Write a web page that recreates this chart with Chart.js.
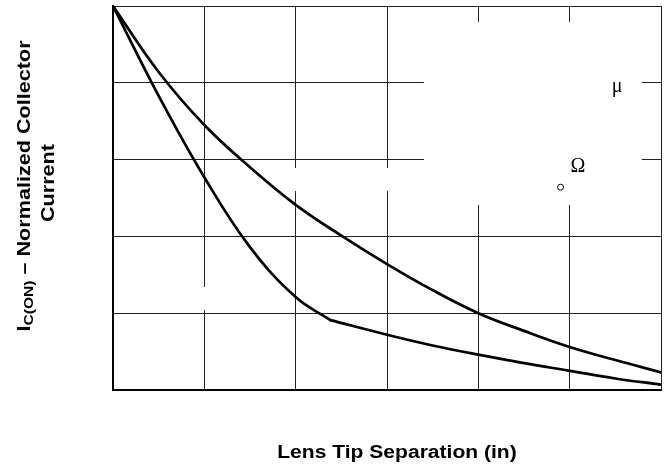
<!DOCTYPE html>
<html>
<head>
<meta charset="utf-8">
<script src="https://cdn.jsdelivr.net/npm/chart.js@4.4.0/dist/chart.umd.min.js"></script>
<style>
  html, body { margin: 0; padding: 0; background: #fff; }
</style>
</head>
<body>
<canvas id="chart" width="664" height="470"></canvas>
<script>
// lens tip separation (grid units) and normalized collector current
const sepUpper = [0, 0.5, 1, 1.5, 2, 2.5, 3, 3.5, 4, 4.5, 5, 5.5, 6];
const currentUpper = [5, 4.14, 3.45, 2.90, 2.41, 2.01, 1.64, 1.30, 1.00, 0.77, 0.56, 0.39, 0.23];
// lower curve has a corner at 2.38, drawn as two pieces meeting there
const sepLower = [0, 0.5, 1, 1.5, 2, 2.38, 3, 3.5, 4, 4.5, 5, 5.5, 6];
const currentLower = [5, 3.83, 2.77, 1.86, 1.21, 0.91, 0.72, 0.58, 0.46, 0.35, 0.25, 0.15, 0.07];
const lowerCorner = 5;
const xGrid = [0, 6];
const yGrid = [0, 5];

const yTitle1 = ['I', 'C(ON)', ' \u2013 Normalized Collector'];
const yTitle2 = 'Current';
const xTitle = 'Lens Tip Separation (in)';

// blank patches in the grid (data units: x0, x1, yTop, yBottom)
const blanks = [
  [3.405, 5.79, 4.79, 2.41],
  [1.94, 3.41, 2.89, 2.59],
  [0.9, 1.12, 1.34, 1.04]
];
const symbols = [
  { t: '\u03bc', x: 5.52, y: 3.88 },
  { t: '\u03a9', x: 5.09, y: 2.84 }
];
const ring = { x: 4.90, y: 2.64 };

function toPoints(xs, ys) {
  return xs.map((v, i) => ({ x: v, y: ys[i] }));
}

function drawParts(ctx, parts, cx, cy, rot, sx) {
  ctx.save();
  ctx.translate(cx, cy);
  ctx.rotate(rot);
  ctx.scale(sx, 1);
  ctx.fillStyle = '#000';
  ctx.textAlign = 'left';
  ctx.textBaseline = 'alphabetic';
  let total = 0;
  parts.forEach(p => {
    ctx.font = p.font;
    p.w = ctx.measureText(p.t).width;
    total += p.w;
  });
  let pos = -total / 2;
  parts.forEach(p => {
    ctx.font = p.font;
    ctx.fillText(p.t, pos, p.dy || 0);
    pos += p.w;
  });
  ctx.restore();
}

const bigFont = 'bold 18px "Liberation Sans", Arial, sans-serif';
const subFont = 'bold 13px "Liberation Sans", Arial, sans-serif';

const paper = {
  id: 'paper',
  beforeDatasetsDraw(chart) {
    const { ctx, scales: { x, y } } = chart;
    ctx.save();
    ctx.fillStyle = '#fff';
    blanks.forEach(b => {
      const x0 = x.getPixelForValue(b[0]), x1 = x.getPixelForValue(b[1]);
      const y0 = y.getPixelForValue(b[2]), y1 = y.getPixelForValue(b[3]);
      ctx.fillRect(x0, y0, x1 - x0, y1 - y0);
    });
    ctx.restore();
  },
  afterDatasetsDraw(chart) {
    const { ctx, scales: { x, y } } = chart;
    ctx.save();
    ctx.fillStyle = '#000';
    ctx.font = '20px "Liberation Serif", "Times New Roman", serif';
    ctx.textAlign = 'center';
    ctx.textBaseline = 'alphabetic';
    symbols.forEach(s => ctx.fillText(s.t, x.getPixelForValue(s.x), y.getPixelForValue(s.y)));
    ctx.beginPath();
    ctx.arc(x.getPixelForValue(ring.x), y.getPixelForValue(ring.y), 3, 0, Math.PI * 2);
    ctx.lineWidth = 1;
    ctx.strokeStyle = '#000';
    ctx.stroke();
    ctx.restore();
  },
  afterDraw(chart) {
    const ctx = chart.ctx;
    drawParts(ctx, [
      { t: yTitle1[0], font: bigFont },
      { t: yTitle1[1], font: subFont, dy: 3 },
      { t: yTitle1[2], font: bigFont }
    ], 30, 186, -Math.PI / 2, 1.2);
    drawParts(ctx, [{ t: yTitle2, font: bigFont }], 54, 183, -Math.PI / 2, 1.2);
    drawParts(ctx, [{ t: xTitle, font: bigFont }], 397, 458, 0, 1.17);
  }
};

const lineStyle = {
  borderColor: '#000',
  borderWidth: 2.7,
  pointRadius: 0,
  showLine: true,
  fill: false,
  tension: 0.4,
  borderCapStyle: 'round'
};

const lowerPts = toPoints(sepLower, currentLower);

const ctx = document.getElementById('chart').getContext('2d');
const myChart = new Chart(ctx, {
  type: 'scatter',
  data: {
    datasets: [
      Object.assign({ label: 'upper', data: toPoints(sepUpper, currentUpper) }, lineStyle),
      Object.assign({ label: 'lower', data: lowerPts.slice(0, lowerCorner + 1) }, lineStyle),
      Object.assign({ label: 'lower tail', data: lowerPts.slice(lowerCorner) }, lineStyle)
    ]
  },
  options: {
    responsive: false,
    animation: false,
    layout: { padding: { left: 113, top: 6, right: 3, bottom: 80 } },
    plugins: { legend: { display: false }, tooltip: { enabled: false } },
    scales: {
      x: {
        type: 'linear', min: xGrid[0], max: xGrid[1],
        ticks: { display: false, stepSize: 1 },
        grid: { color: '#222', lineWidth: 1, drawTicks: false },
        border: { display: true, color: '#000', width: 2 }
      },
      y: {
        type: 'linear', min: yGrid[0], max: yGrid[1],
        ticks: { display: false, stepSize: 1 },
        grid: { color: '#222', lineWidth: 1, drawTicks: false },
        border: { display: true, color: '#000', width: 2 }
      }
    }
  },
  plugins: [paper]
});
</script>
</body>
</html>
